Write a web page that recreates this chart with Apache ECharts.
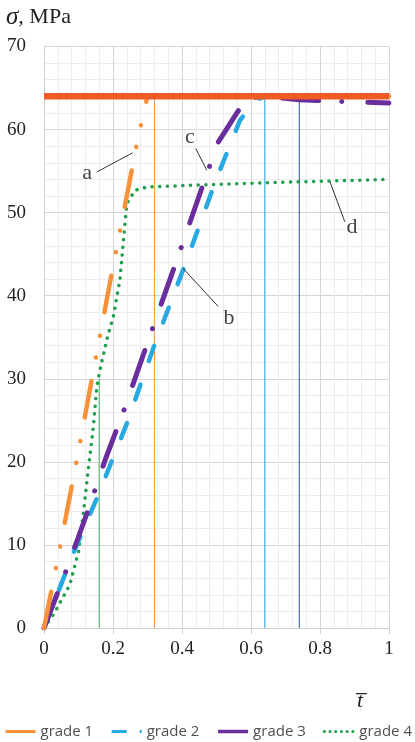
<!DOCTYPE html>
<html><head><meta charset="utf-8">
<script src="https://cdn.jsdelivr.net/npm/echarts@6/dist/echarts.min.js"></script>
<style>html,body{margin:0;padding:0;background:#fff}#c{width:415px;height:742px}</style>
</head><body><div id="c"></div><script>
// ---- data ----
const seriesNames = ['grade 1', 'grade 2', 'grade 3', 'grade 4'];
const grade1 = [[0,0],[0.05,10.5],[0.1,21.3],[0.15,32.5],[0.2,43.5],[0.24,52],[0.27,58.5],[0.29,62.2],[0.3,64],[1,64]];
const grade2 = [[0,0],[0.085,9],[0.153,15.6],[0.24,24.6],[0.317,33.7],[0.414,44.3],[0.5,54.1],[0.568,61.1],[0.612,63.5],[0.64,64],[1,64]];
const grade3 = [[0,0],[0.066,7.1],[0.128,14.2],[0.177,20.2],[0.235,26.6],[0.298,34.1],[0.402,46.3],[0.462,53.5],[0.505,58.5],[0.573,62.9],[0.6,63.8],[0.64,64],[0.74,63.6],[0.85,63.4],[1,63.2]];
const grade4 = [[0,0],[0.03,1.8],[0.075,5.2],[0.1,9.2],[0.114,13.8],[0.128,19],[0.143,24.2],[0.153,29],[0.162,31],[0.182,34.7],[0.201,37.5],[0.22,41.9],[0.23,46.5],[0.24,51.1],[0.264,52.7],[0.3,53.1],[0.5,53.4],[0.64,53.6],[0.82,53.8],[1,54]];
const limitLine = [[0,64],[1,64]];
const refX = [0.16, 0.32, 0.64, 0.74];
const refTop = [30, 64, 64, 63.7];
const noteText = ['a', 'b', 'c', 'd'];
const notePos = [[0.125,54.8],[0.536,37.3],[0.423,59.1],[0.893,48.3]];
const leaderFrom = [[0.153,54.9],[0.403,43.3],[0.44,57.7],[0.829,53.7]];
const leaderTo = [[0.257,57.2],[0.505,38.7],[0.472,55.1],[0.872,48.9]];
const xMin = 0, xMax = 1, xStep = 0.2;
const yMin = 0, yMax = 70, yStep = 10;

// ---- styles ----
const C1 = '#f7923a', C2 = '#27a9e1', C3 = '#6a2d9c', C4 = '#1f9e4b', CL = '#f15a24';
const refColors = ['#3fae5f', '#f7923a', '#27a9e1', '#2b5c8e'];
const serif = '"Liberation Serif", "DejaVu Serif", serif';

const chart = echarts.init(document.getElementById('c'), null, {renderer: 'canvas'});
const lineSeries = (name, data, color, width, type, z) => ({
  name, type: 'line', data, symbol: 'none', showSymbol: false, z,
  lineStyle: {color, width, type, cap: 'round', join: 'round'},
  itemStyle: {color}
});
const refSeries = refX.map((x, i) => ({
  type: 'line', silent: true, z: 1, symbol: 'none',
  data: [[x, yMin], [x, refTop[i]]],
  lineStyle: {color: refColors[i], width: 1, type: 'solid'}
}));
chart.setOption({
  animation: false,
  grid: {left: 44, right: 26, top: 46.5, bottom: 114, containLabel: false},
  xAxis: {
    type: 'value', min: xMin, max: xMax, interval: xStep,
    axisLine: {show: true, lineStyle: {color: '#d0d0d0', width: 1}},
    axisTick: {show: true, length: 6, lineStyle: {color: '#d0d0d0'}},
    axisLabel: {fontFamily: serif, fontSize: 19, color: '#222', margin: 12},
    splitLine: {show: true, lineStyle: {color: '#d6d6d6', width: 1}},
    minorTick: {show: false, splitNumber: 5},
    minorSplitLine: {show: true, lineStyle: {color: '#ececec', width: 1}}
  },
  yAxis: {
    type: 'value', min: yMin, max: yMax, interval: yStep,
    axisLine: {show: true, lineStyle: {color: '#d0d0d0', width: 1}},
    axisTick: {show: false},
    axisLabel: {fontFamily: serif, fontSize: 19, color: '#222', margin: 18},
    splitLine: {show: true, lineStyle: {color: '#d6d6d6', width: 1}},
    minorTick: {show: false, splitNumber: 5},
    minorSplitLine: {show: true, lineStyle: {color: '#ececec', width: 1}}
  },
  legend: {
    left: 4, top: 724, padding: 0, itemWidth: 30, itemHeight: 14, itemGap: 17,
    itemStyle: {opacity: 0},
    textStyle: {fontFamily: '"Open Sans", sans-serif', fontSize: 15, color: '#505050'},
    data: [
      {name: seriesNames[0], itemStyle: {opacity: 0}, lineStyle: {type: 'solid', width: 3, cap: 'butt'}},
      {name: seriesNames[1], itemStyle: {opacity: 0}, lineStyle: {type: [15, 13], width: 3, cap: 'butt'}},
      {name: seriesNames[2], itemStyle: {opacity: 0}, lineStyle: {type: 'solid', width: 3.5, cap: 'butt'}},
      {name: seriesNames[3], itemStyle: {opacity: 0}, lineStyle: {type: [0.1, 5.6], width: 3, cap: 'round'}}
    ]
  },
  graphic: [
    {type: 'text', left: 6, top: 5, style: {
      text: '{i|σ}, MPa', fontFamily: serif, fontSize: 22, fill: '#222',
      rich: {i: {fontFamily: serif, fontStyle: 'italic', fontSize: 25, fill: '#222'}}
    }},
    {type: 'text', left: 357, top: 690, style: {
      text: 't\u0305', fontFamily: serif, fontStyle: 'italic', fontSize: 22, fill: '#222'
    }}
  ],
  series: refSeries.concat([
    lineSeries(seriesNames[3], grade4, C4, 3.5, [0.1, 7.6], 2),
    lineSeries(seriesNames[1], grade2, C2, 4.5, [16, 25], 3),
    lineSeries(seriesNames[2], grade3, C3, 5, [37, 23, 0.1, 26], 4),
    lineSeries(seriesNames[0], grade1, C1, 4.5, [37, 24, 0.1, 22, 0.1, 24], 5),
    {
      type: 'line', data: limitLine, symbol: 'none', z: 6, silent: true,
      lineStyle: {color: CL, width: 6.5, cap: 'butt'}
    },
    {
      type: 'scatter', z: 7, silent: true, symbolSize: 1,
      itemStyle: {color: 'rgba(0,0,0,0)'},
      data: noteText.map((t, i) => [notePos[i][0], notePos[i][1], t]),
      label: {show: true, position: 'inside', formatter: p => p.value[2],
        fontFamily: serif, fontSize: 22, color: '#111'},
      markLine: {
        silent: true, symbol: 'none', label: {show: false}, animation: false,
        lineStyle: {color: '#333', width: 1, type: 'solid'},
        data: leaderFrom.map((f, i) => [{coord: f}, {coord: leaderTo[i]}])
      }
    }
  ])
});
</script></body></html>
